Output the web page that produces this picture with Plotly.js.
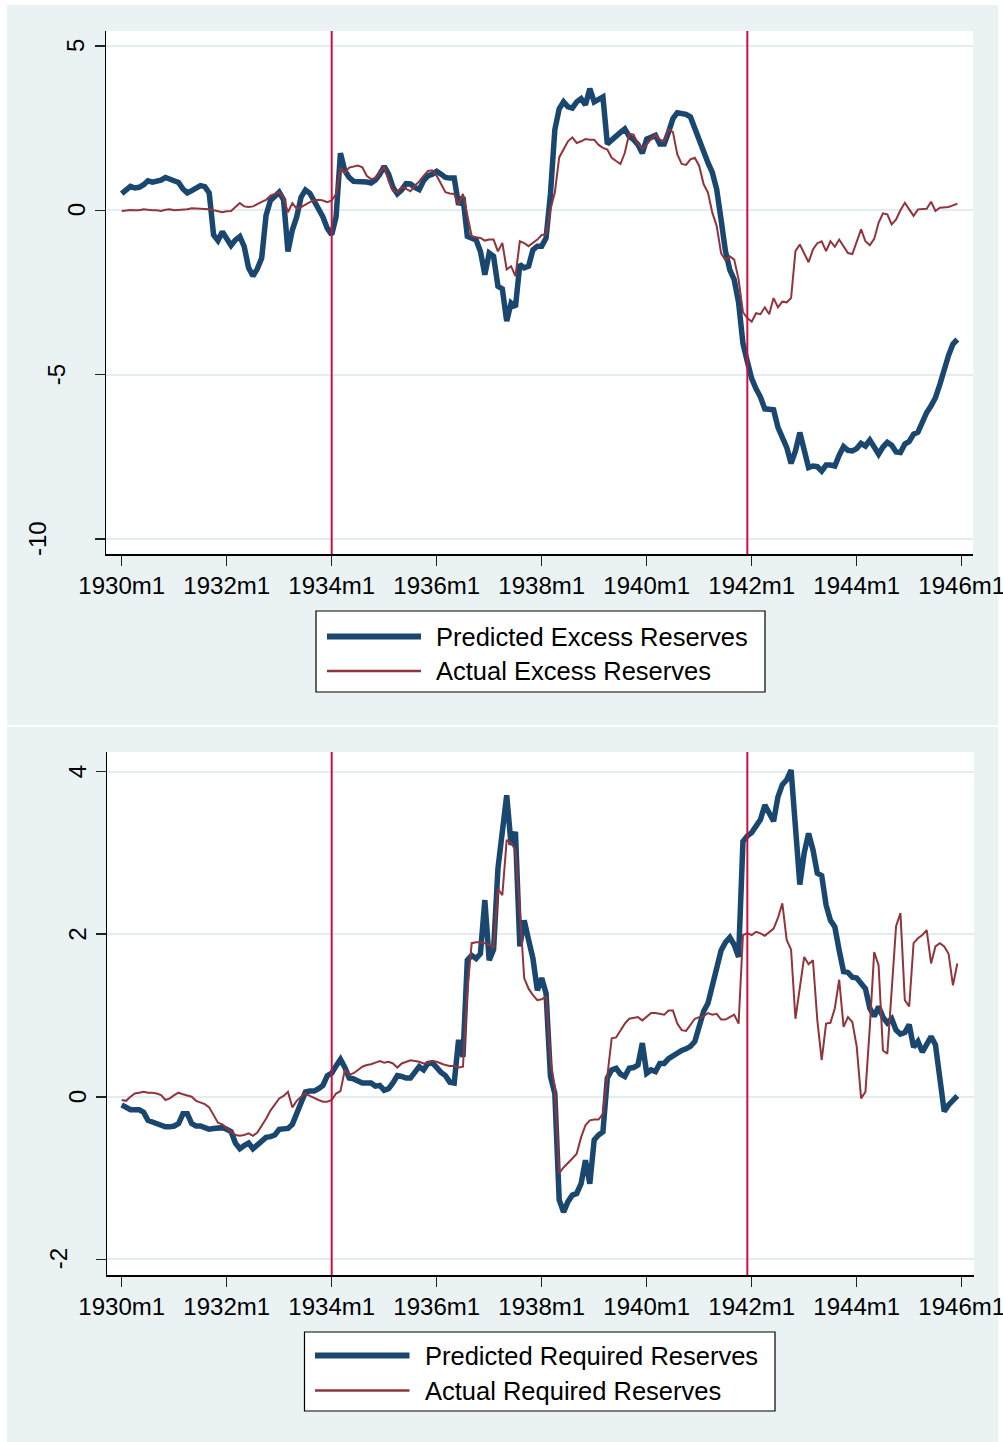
<!DOCTYPE html>
<html><head><meta charset="utf-8">
<script src="https://cdn.plot.ly/plotly-3.0.1.min.js"></script>
<style>html,body{margin:0;padding:0;background:#fff}#chart{width:1003px;height:1442px}</style>
</head><body><div id="chart"></div>
<script>
// ---------- data (monthly, 1930m1 .. 1945m12) ----------
const startYear = 1930;
const nMonths = 192;
const months = [];
for (let i = 0; i < nMonths; i++) months.push((startYear + Math.floor(i / 12)) + 'm' + (i % 12 + 1));
const monthIndex = months.map((_, i) => i);

const tickLabels = ['1930m1','1932m1','1934m1','1936m1','1938m1','1940m1','1942m1','1944m1','1946m1'];
const tickIndex = [0, 24, 48, 72, 96, 120, 144, 168, 192];
const eventMonths = ['1934m1', '1941m12'];

const excessTicks = [-10, -5, 0, 5];
const excessTickText = ['-10', '-5', '0', '5'];
const requiredTicks = [-2, 0, 2, 4];
const requiredTickText = ['-2', '0', '2', '4'];

const seriesNames = ['Predicted Excess Reserves', 'Actual Excess Reserves',
                     'Predicted Required Reserves', 'Actual Required Reserves'];

const predictedExcess = [
 0.51,0.62,0.73,0.68,0.70,0.78,0.90,0.86,0.88,0.92,1.00,0.94,
 0.89,0.85,0.65,0.53,0.60,0.68,0.75,0.72,0.53,-0.75,-0.92,-0.65,
 -0.85,-1.07,-0.90,-0.80,-1.10,-1.75,-2.00,-1.78,-1.45,-0.15,0.30,0.42,
 0.55,0.32,-1.25,-0.60,-0.20,0.40,0.62,0.52,0.30,0.00,-0.20,-0.55,
 -0.74,-0.20,1.74,1.20,1.00,0.88,0.88,0.88,0.86,0.83,0.92,1.10,
 1.34,1.10,0.70,0.50,0.62,0.81,0.80,0.70,0.63,0.90,1.05,1.10,
 1.19,1.10,1.00,0.98,0.98,0.17,0.40,-0.79,-0.84,-0.90,-1.25,-1.96,
 -1.30,-1.40,-2.31,-2.39,-3.37,-2.82,-2.94,-1.65,-1.75,-1.70,-1.20,-1.09,
 -1.09,-0.84,0.50,2.45,3.09,3.30,3.15,3.11,3.30,3.40,3.21,3.70,
 3.30,3.40,3.45,2.02,2.15,2.25,2.37,2.48,2.25,2.15,2.00,1.74,
 2.17,2.22,2.28,2.02,2.02,2.38,2.79,2.97,2.95,2.92,2.84,2.48,
 2.10,1.70,1.45,1.15,0.64,-0.28,-1.24,-1.81,-2.11,-2.80,-4.05,-4.60,
 -5.12,-5.43,-5.68,-6.04,-6.06,-6.07,-6.60,-6.90,-7.21,-7.70,-7.32,-6.76,
 -7.32,-7.83,-7.78,-7.80,-7.93,-7.75,-7.75,-7.78,-7.45,-7.19,-7.30,-7.32,
 -7.25,-7.09,-7.17,-6.99,-7.20,-7.42,-7.20,-7.06,-7.15,-7.35,-7.37,-7.11,
 -7.03,-6.81,-6.75,-6.40,-6.15,-5.95,-5.70,-5.30,-4.80,-4.41,-4.07,-3.93
];
const actualExcess = [
 -0.02,0.00,0.01,0.00,0.00,0.03,0.01,0.00,0.00,-0.02,0.02,0.03,
 0.00,0.01,0.01,0.03,0.06,0.05,0.04,0.05,0.03,0.00,-0.04,-0.06,
 -0.03,-0.02,0.10,0.22,0.12,0.10,0.12,0.20,0.26,0.32,0.45,0.50,
 0.55,0.37,-0.06,0.22,0.05,0.10,0.18,0.25,0.30,0.32,0.30,0.25,
 0.30,0.50,1.30,1.13,1.30,1.33,1.36,1.31,1.05,0.95,0.98,1.15,
 1.34,0.90,0.60,0.55,0.72,0.65,0.58,0.75,0.88,1.05,1.20,1.22,
 1.05,0.80,0.55,0.51,0.50,0.17,0.50,-0.15,-0.79,-0.82,-0.84,-0.92,
 -0.89,-0.89,-1.25,-0.99,-1.80,-1.70,-2.00,-0.94,-1.00,-1.09,-1.00,-0.89,
 -0.75,-0.73,0.03,0.54,1.61,1.85,2.10,2.22,2.05,2.10,2.17,2.15,
 2.15,1.99,1.90,1.85,1.60,1.50,1.41,1.75,2.33,2.30,2.02,1.87,
 2.00,2.17,2.30,2.15,2.10,2.46,2.38,1.70,1.41,1.38,1.55,1.60,
 1.35,0.80,0.54,-0.07,-0.48,-1.30,-1.52,-1.40,-1.50,-2.10,-3.10,-3.28,
 -3.39,-3.13,-3.16,-2.95,-3.16,-2.67,-2.95,-2.78,-2.80,-2.67,-1.24,-1.04,
 -1.30,-1.58,-1.19,-1.00,-0.94,-1.24,-0.94,-1.11,-0.89,-1.10,-1.30,-1.33,
 -0.95,-0.58,-0.94,-1.06,-0.87,-0.38,-0.09,-0.12,-0.43,-0.28,0.00,0.23,
 0.03,-0.17,0.03,0.03,0.05,0.26,-0.02,0.08,0.08,0.10,0.15,0.20
];
const predictedRequired = [
 -0.10,-0.14,-0.16,-0.16,-0.16,-0.19,-0.29,-0.31,-0.33,-0.36,-0.37,-0.37,
 -0.36,-0.33,-0.21,-0.21,-0.33,-0.36,-0.36,-0.38,-0.40,-0.39,-0.39,-0.38,
 -0.40,-0.43,-0.57,-0.64,-0.60,-0.57,-0.64,-0.59,-0.55,-0.50,-0.49,-0.47,
 -0.40,-0.39,-0.39,-0.34,-0.22,-0.06,0.06,0.07,0.07,0.10,0.14,0.26,
 0.29,0.38,0.46,0.36,0.23,0.22,0.20,0.17,0.17,0.17,0.13,0.14,
 0.08,0.10,0.17,0.26,0.25,0.23,0.23,0.31,0.37,0.33,0.41,0.42,
 0.35,0.30,0.26,0.18,0.17,0.70,0.49,1.68,1.74,1.70,1.76,2.42,
 1.68,1.81,2.81,3.20,3.71,3.10,3.26,1.85,2.17,1.93,1.70,1.31,
 1.46,1.27,0.25,0.04,-1.27,-1.42,-1.29,-1.21,-1.19,-1.07,-0.78,-1.07,
 -0.53,-0.47,-0.43,0.23,0.33,0.35,0.28,0.25,0.35,0.36,0.39,0.66,
 0.29,0.33,0.31,0.41,0.41,0.47,0.51,0.53,0.57,0.59,0.62,0.68,
 0.84,1.05,1.15,1.35,1.60,1.80,1.90,1.96,1.87,1.72,3.14,3.21,
 3.25,3.33,3.41,3.59,3.49,3.39,3.69,3.84,3.90,4.02,3.32,2.61,
 3.00,3.24,3.04,2.75,2.72,2.36,2.17,2.09,1.80,1.54,1.53,1.47,
 1.46,1.40,1.33,1.09,0.99,1.11,0.98,0.91,0.96,0.82,0.77,0.79,
 0.89,0.61,0.68,0.55,0.66,0.74,0.64,0.25,-0.18,-0.10,-0.04,0.01
];
const actualRequired = [
 -0.04,-0.05,0.00,0.04,0.05,0.06,0.05,0.05,0.04,0.02,-0.04,-0.02,
 0.02,0.05,0.03,0.01,0.00,-0.05,-0.07,-0.09,-0.13,-0.23,-0.32,-0.34,
 -0.38,-0.43,-0.47,-0.48,-0.47,-0.45,-0.48,-0.44,-0.36,-0.27,-0.17,-0.10,
 -0.02,0.01,0.06,-0.13,-0.05,0.00,0.04,0.01,-0.02,-0.04,-0.06,-0.06,
 -0.04,0.04,0.07,0.33,0.27,0.29,0.33,0.37,0.39,0.40,0.42,0.44,
 0.42,0.43,0.41,0.36,0.41,0.43,0.45,0.44,0.43,0.41,0.42,0.44,
 0.43,0.41,0.39,0.38,0.38,0.36,0.37,1.30,1.89,1.90,1.90,1.89,
 1.87,1.83,2.56,2.48,3.16,3.12,3.04,2.30,1.46,1.33,1.25,1.19,
 1.20,1.23,0.45,0.12,-0.94,-0.87,-0.82,-0.76,-0.70,-0.50,-0.35,-0.29,
 -0.28,-0.28,-0.21,0.25,0.72,0.73,0.82,0.90,0.96,0.97,0.98,0.94,
 0.98,1.03,1.03,1.02,1.01,1.06,1.06,0.90,0.82,0.81,0.88,0.96,
 0.98,0.99,1.03,1.01,1.02,0.95,0.95,0.98,1.01,0.90,1.99,2.01,
 1.99,2.03,2.01,1.98,2.02,2.07,2.20,2.38,1.93,1.81,0.96,1.35,
 1.72,1.63,1.68,0.94,0.45,0.90,0.91,1.09,1.44,0.86,0.98,0.92,
 0.62,-0.02,0.06,0.86,1.78,1.62,0.57,0.53,1.35,2.10,2.26,1.19,
 1.11,1.89,1.95,1.99,2.05,1.64,1.85,1.89,1.85,1.76,1.37,1.64
];

// ---------- layout helpers (pixel -> paper) ----------
const W = 1003, H = 1442;
const px = v => v / W;
const py = v => 1 - v / H;
const NAVY = '#1a476f', MAROON = '#90353b', RED = '#cc1040', BG = '#eaf2f3', GRID = '#e3edf0';
const FONT = 'Liberation Sans, Arial, Helvetica, sans-serif';

const eventIdx = eventMonths.map(m => months.indexOf(m));

const traces = [
  {x: monthIndex, y: predictedExcess, name: seriesNames[0], type: 'scatter', mode: 'lines',
   line: {color: NAVY, width: 5.5}, xaxis: 'x', yaxis: 'y', showlegend: false},
  {x: monthIndex, y: actualExcess, name: seriesNames[1], type: 'scatter', mode: 'lines',
   line: {color: MAROON, width: 2}, xaxis: 'x', yaxis: 'y', showlegend: false},
  {x: monthIndex, y: predictedRequired, name: seriesNames[2], type: 'scatter', mode: 'lines',
   line: {color: NAVY, width: 5.5}, xaxis: 'x2', yaxis: 'y2', showlegend: false},
  {x: monthIndex, y: actualRequired, name: seriesNames[3], type: 'scatter', mode: 'lines',
   line: {color: MAROON, width: 2}, xaxis: 'x2', yaxis: 'y2', showlegend: false}
];

const monthPx = 4.375, firstTickPx = 121.7;
function xr(l, r) { return [(l - firstTickPx) / monthPx, (r - firstTickPx) / monthPx]; }

const xCommon = {
  tickmode: 'array', tickvals: tickIndex, ticktext: tickLabels, ticklabeloverflow: 'allow',
  ticks: 'outside', ticklen: 10, tickwidth: 1.5, tickcolor: '#222',
  showline: true, linecolor: '#000', linewidth: 1.5, showgrid: false, zeroline: false,
  tickfont: {family: FONT, size: 24, color: '#000'}, fixedrange: true
};
const yCommon = {
  tickmode: 'array', showticklabels: false,
  ticks: 'outside', ticklen: 10, tickwidth: 1.5, tickcolor: '#222',
  showline: true, linecolor: '#000', linewidth: 1.5,
  showgrid: true, gridcolor: GRID, gridwidth: 2, zeroline: false, fixedrange: true
};

const shapes = [];
const annotations = [];
// panel backgrounds, then white plot areas on top of them
shapes.push({type: 'rect', xref: 'paper', yref: 'paper', x0: px(7), x1: px(998), y0: py(725), y1: py(5),
  fillcolor: BG, line: {width: 0}, layer: 'below'});
shapes.push({type: 'rect', xref: 'paper', yref: 'paper', x0: px(7), x1: px(998), y0: py(1442), y1: py(727),
  fillcolor: BG, line: {width: 0}, layer: 'below'});
shapes.push({type: 'rect', xref: 'paper', yref: 'paper', x0: px(106), x1: px(973), y0: py(554), y1: py(31),
  fillcolor: '#fff', line: {width: 0}, layer: 'below'});
shapes.push({type: 'rect', xref: 'paper', yref: 'paper', x0: px(107), x1: px(974), y0: py(1275), y1: py(752),
  fillcolor: '#fff', line: {width: 0}, layer: 'below'});
// event lines
eventIdx.forEach(i => {
  shapes.push({type: 'line', xref: 'x', yref: 'y domain', x0: i, x1: i, y0: 0, y1: 1,
    line: {color: RED, width: 2}, layer: 'above'});
  shapes.push({type: 'line', xref: 'x2', yref: 'y2 domain', x0: i, x1: i, y0: 0, y1: 1,
    line: {color: RED, width: 2}, layer: 'above'});
});
// rotated y tick labels (Stata places longer labels further left)
function yLabels(vals, texts, yref, baseX) {
  vals.forEach((v, k) => annotations.push({xref: 'paper', yref: yref, x: px(baseX - 19.5 * (texts[k].length - 1)), y: v,
    text: texts[k], showarrow: false, textangle: -90, xanchor: 'center', yanchor: 'middle',
    font: {family: FONT, size: 24, color: '#000'}}));
}
yLabels(excessTicks, excessTickText, 'y', 76);
yLabels(requiredTicks, requiredTickText, 'y2', 77.5);
// legends
function legend(box, lineX, textX, rows, names) {
  shapes.push({type: 'rect', xref: 'paper', yref: 'paper', x0: px(box[0]), x1: px(box[1]),
    y0: py(box[3]), y1: py(box[2]), fillcolor: '#fff', line: {color: '#000', width: 1.2}, layer: 'above'});
  shapes.push({type: 'line', xref: 'paper', yref: 'paper', x0: px(lineX[0]), x1: px(lineX[1]),
    y0: py(rows[0]), y1: py(rows[0]), line: {color: NAVY, width: 6}, layer: 'above'});
  shapes.push({type: 'line', xref: 'paper', yref: 'paper', x0: px(lineX[0]), x1: px(lineX[1]),
    y0: py(rows[1]), y1: py(rows[1]), line: {color: MAROON, width: 2.5}, layer: 'above'});
  names.forEach((n, k) => annotations.push({xref: 'paper', yref: 'paper', x: px(textX), y: py(rows[k]),
    text: n, showarrow: false, xanchor: 'left', yanchor: 'middle',
    font: {family: FONT, size: 25.5, color: '#000'}}));
}
legend([316, 765, 611, 692], [327, 421], 434, [636.5, 671], [seriesNames[0], seriesNames[1]]);
legend([304.5, 775, 1332, 1411], [315, 409.5], 423, [1355.5, 1390.5], [seriesNames[2], seriesNames[3]]);

const layout = {
  width: W, height: H, margin: {l: 0, r: 0, t: 0, b: 0},
  paper_bgcolor: '#fff', plot_bgcolor: '#fff', showlegend: false,
  font: {family: FONT, color: '#000'},
  xaxis: Object.assign({}, xCommon, {domain: [px(106), px(973)], range: xr(106, 973), anchor: 'y'}),
  yaxis: Object.assign({}, yCommon, {domain: [py(554), py(31)], range: [-10.456, 5.456],
    tickvals: excessTicks, anchor: 'x'}),
  xaxis2: Object.assign({}, xCommon, {domain: [px(107), px(974)], range: xr(107, 974), anchor: 'y2'}),
  yaxis2: Object.assign({}, yCommon, {domain: [py(1275), py(752)], range: [-2.193, 4.242],
    tickvals: requiredTicks, anchor: 'x2'}),
  shapes: shapes, annotations: annotations
};

Plotly.newPlot('chart', traces, layout, {displayModeBar: false, staticPlot: true});
</script></body></html>
